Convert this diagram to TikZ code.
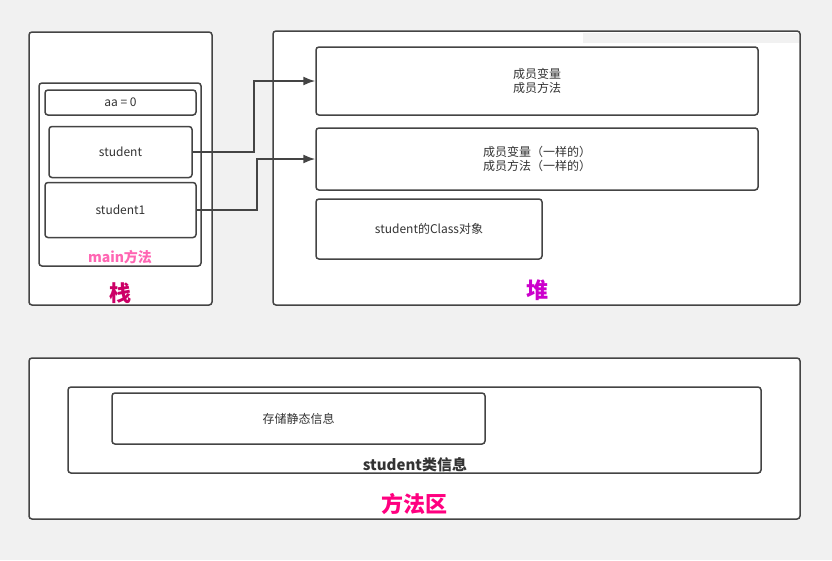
\documentclass[tikz,border=0pt]{standalone}
\usepackage{fontspec}
\setmainfont{Noto Sans CJK SC}
\usetikzlibrary{positioning}
\usetikzlibrary{calc}
\usetikzlibrary{arrows.meta}
\definecolor{bggray}{HTML}{F1F1F1}
\definecolor{edgegray}{HTML}{444444}
\definecolor{txtgray}{HTML}{333333}
\definecolor{mainpink}{HTML}{FF66B3}
\definecolor{stackred}{HTML}{CC0066}
\definecolor{heappurple}{HTML}{CC00CC}
\definecolor{methodpink}{HTML}{FF0080}
\tikzset{>={Latex[length=12pt,width=9pt]}}
\tikzset{area/.style={rectangle, draw=edgegray, fill=white, line width=1.5pt, rounded corners=3pt, inner sep=0pt}}
\tikzset{cell/.style={rectangle, draw=edgegray, fill=white, line width=1.5pt, rounded corners=3pt, inner sep=0pt, font=\fontsize{12}{14}\selectfont, text=txtgray, align=center}}
\tikzset{caption/.style={font=\fontsize{22}{24}\selectfont\bfseries}}
\tikzset{sublabel/.style={font=\fontsize{14}{16}\selectfont\bfseries}}
\tikzset{ref/.style={->, line width=1.6pt, draw=edgegray}}

\begin{document}
\begin{tikzpicture}[x=1pt, y=-1pt]
    \fill [bggray] (0,0) rectangle (832,560);
    \useasboundingbox (0,0) rectangle (832,560);

    % ------- Start Stack ------- %
    \node [area, minimum width=183pt, minimum height=273pt] (stack) at (120.5,168.5) {};
    \node [area, minimum width=162pt, minimum height=183pt] (mainframe) at (120,174.5) {};
    \node [cell, minimum width=151pt, minimum height=25pt] (aa) at (120.5,102.5) {aa = 0};
    \node [cell, minimum width=143pt, minimum height=51pt] (student) at (120.5,152) {student};
    \node [cell, minimum width=151pt, minimum height=55pt] (student1) at (120.5,210) {student1};
    \node [sublabel, text=mainpink] (mainlabel) at (120,257) {main方法};
    \node [caption, text=stackred] (stacklabel) at (120,293) {栈};
    % ------- End Stack ------- %

    % ------- Start Heap ------- %
    \node [area, minimum width=527pt, minimum height=274pt] (heap) at (536.5,168) {};
    \fill [bggray] (583,32.8) rectangle (799.2,43);
    \node [cell, minimum width=442pt, minimum height=68pt] (obj1) at (537,81) {成员变量\\成员方法};
    \node [cell, minimum width=442pt, minimum height=62pt] (obj2) at (537,159) {成员变量（一样的）\\成员方法（一样的）};
    \node [cell, minimum width=226pt, minimum height=60pt] (classobj) at (429,229) {student的Class对象};
    \node [caption, text=heappurple] (heaplabel) at (537,290) {堆};
    % ------- End Heap ------- %

    % A line from each reference to its object.
    \draw [ref] (student.east) -- ++(61,0) |- (obj1.west);
    \draw [ref] (student1.east) -- ++(60,0) |- (obj2.west);

    % ------- Start Method Area ------- %
    \node [area, minimum width=771pt, minimum height=161pt] (methodarea) at (414.5,438.5) {};
    \node [area, minimum width=693pt, minimum height=86pt] (classinfo) at (414.5,430) {};
    \node [cell, minimum width=373pt, minimum height=51pt] (static) at (298.5,418.5) {存储静态信息};
    \node [sublabel, text=txtgray, font=\fontsize{15}{17}\selectfont\bfseries] (classlabel) at (415,465) {student类信息};
    \node [caption, text=methodpink] (methodlabel) at (414,504) {方法区};
    % ------- End Method Area ------- %
\end{tikzpicture}
\end{document}
